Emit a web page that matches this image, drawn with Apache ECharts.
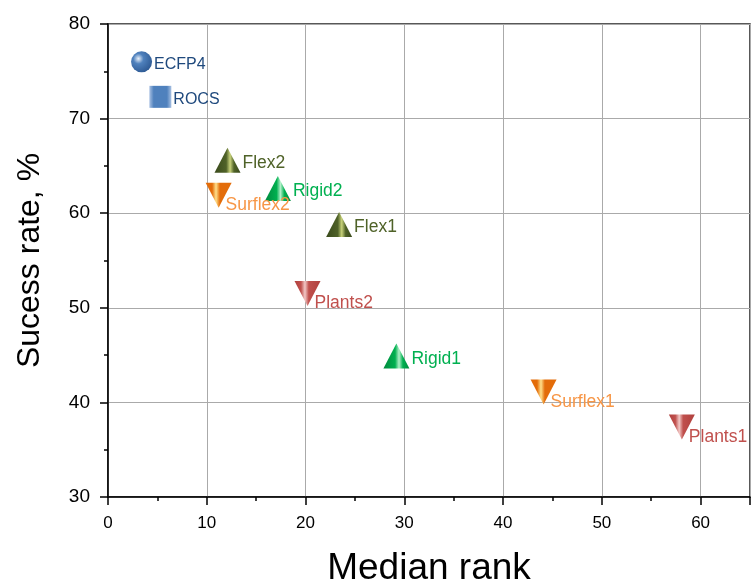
<!DOCTYPE html>
<html>
<head>
<meta charset="utf-8">
<script src="https://cdn.jsdelivr.net/npm/echarts@6/dist/echarts.min.js"></script>
<style>html,body{margin:0;padding:0;background:#fff}#c{width:751px;height:583px}</style>
</head>
<body>
<div id="c"></div>
<script>
// ---- data ----
const methods = ['ECFP4', 'ROCS', 'Flex2', 'Rigid2', 'Surflex2', 'Flex1', 'Plants2', 'Rigid1', 'Surflex1', 'Plants1'];
const medianRank = [3.4, 5.3, 12.1, 17.2, 11.2, 23.4, 20.2, 29.2, 44.1, 58.1];
const successRate = [76.0, 72.3, 65.6, 62.6, 61.9, 58.8, 51.5, 44.9, 41.1, 37.4];
const xTicks = [0, 10, 20, 30, 40, 50, 60];
const yTicks = [30, 40, 50, 60, 70, 80];

// ---- styles ----
const styleOf = {
  ECFP4:   {shape: 'circle', marker: '#4F81BD', light: '#B8CCE8', dark: '#2E5A94', text: '#1F497D', down: false, fs: 16},
  ROCS:    {shape: 'rect',   marker: '#4F81BD', light: '#A9C1E3', dark: '#3A6AA8', text: '#1F497D', down: false, fs: 16},
  Flex2:   {shape: 'triangle', marker: '#4F6228', light: '#C8D27A', dark: '#3A4A1C', text: '#4F6228', down: false, fs: 17.5},
  Flex1:   {shape: 'triangle', marker: '#4F6228', light: '#C8D27A', dark: '#3A4A1C', text: '#4F6228', down: false, fs: 17.5},
  Rigid2:  {shape: 'triangle', marker: '#00B050', light: '#B0F0C8', dark: '#008A3E', text: '#00B050', down: false, fs: 17.5},
  Rigid1:  {shape: 'triangle', marker: '#00B050', light: '#B0F0C8', dark: '#008A3E', text: '#00B050', down: false, fs: 17.5},
  Surflex2:{shape: 'triangle', marker: '#E36C09', light: '#FFE08A', dark: '#E36C09', text: '#F79646', down: true, fs: 17.5},
  Surflex1:{shape: 'triangle', marker: '#E36C09', light: '#FFE08A', dark: '#E36C09', text: '#F79646', down: true, fs: 17.5},
  Plants2: {shape: 'triangle', marker: '#C0504D', light: '#F2C8C6', dark: '#B0403D', text: '#C0504D', down: true, fs: 17.5},
  Plants1: {shape: 'triangle', marker: '#C0504D', light: '#F2C8C6', dark: '#B0403D', text: '#C0504D', down: true, fs: 17.5}
};

function fillFor(s) {
  if (s.shape === 'circle') {
    return new echarts.graphic.RadialGradient(0.35, 0.35, 0.7, [
      {offset: 0, color: '#E8F0FA'}, {offset: 0.35, color: s.marker}, {offset: 1, color: s.dark}
    ]);
  }
  if (s.shape === 'rect') {
    return new echarts.graphic.LinearGradient(0, 0, 1, 0, [
      {offset: 0, color: s.light}, {offset: 0.2, color: s.marker}, {offset: 0.8, color: s.marker}, {offset: 1, color: s.light}
    ]);
  }
  return new echarts.graphic.LinearGradient(0, 0, 1, 0, [
    {offset: 0, color: s.dark}, {offset: 0.45, color: s.marker}, {offset: 0.6, color: s.light}, {offset: 0.75, color: s.marker}, {offset: 1, color: s.dark}
  ]);
}

const series = methods.map((name, i) => {
  const s = styleOf[name];
  const size = s.shape === 'circle' ? 21 : (s.shape === 'rect' ? 22 : [26, 25]);
  return {
    type: 'scatter',
    name: name,
    symbol: s.shape,
    symbolRotate: s.down ? 180 : 0,
    symbolSize: size,
    data: [[medianRank[i], successRate[i]]],
    itemStyle: {color: fillFor(s), opacity: 1},
    label: {
      show: true,
      formatter: name,
      position: 'right',
      distance: s.down ? 0 : 2,
      offset: s.down ? [-6, 10] : [0, 3],
      color: s.text,
      fontSize: s.fs,
      fontFamily: 'Liberation Sans, Arial, sans-serif'
    },
    z: 5
  };
});

const chart = echarts.init(document.getElementById('c'), null, {renderer: 'canvas'});
chart.setOption({
  animation: false,
  backgroundColor: '#fff',
  grid: {left: 108, right: 1, top: 24, bottom: 86, containLabel: false, outerBoundsMode: 'none',
    show: true, borderColor: '#222', borderWidth: 1.5, backgroundColor: 'transparent'},
  xAxis: {
    type: 'value', min: 0, max: 65, interval: 10,
    name: 'Median rank', nameLocation: 'middle', nameGap: 53,
    nameTextStyle: {fontSize: 37, color: '#000', fontFamily: 'Liberation Sans, Arial, sans-serif'},
    axisLine: {show: true, onZero: false, lineStyle: {color: '#000', width: 1.5}},
    axisTick: {show: true, inside: false, length: 8, lineStyle: {color: '#000', width: 1.5}},
    minorTick: {show: true, splitNumber: 2, length: 4, lineStyle: {color: '#000', width: 1.5}},
    axisLabel: {margin: 18, fontSize: 17, color: '#000', fontFamily: 'Liberation Sans, Arial, sans-serif',
      formatter: v => xTicks.indexOf(v) >= 0 ? String(v) : ''},
    splitLine: {show: true, lineStyle: {color: '#aaa', width: 1}}
  },
  yAxis: {
    type: 'value', min: 30, max: 80, interval: 10,
    name: 'Sucess rate, %', nameLocation: 'middle', nameGap: 62, nameRotate: 90,
    nameTextStyle: {fontSize: 32, color: '#000', fontFamily: 'Liberation Sans, Arial, sans-serif'},
    axisLine: {show: true, onZero: false, lineStyle: {color: '#000', width: 1.5}},
    axisTick: {show: true, inside: false, length: 8, lineStyle: {color: '#000', width: 1.5}},
    minorTick: {show: true, splitNumber: 2, length: 4, lineStyle: {color: '#000', width: 1.5}},
    axisLabel: {margin: 18, fontSize: 19, color: '#000', fontFamily: 'Liberation Sans, Arial, sans-serif',
      formatter: v => yTicks.indexOf(v) >= 0 ? String(v) : ''},
    splitLine: {show: true, lineStyle: {color: '#aaa', width: 1}}
  },
  series: series
});
</script>
</body>
</html>
